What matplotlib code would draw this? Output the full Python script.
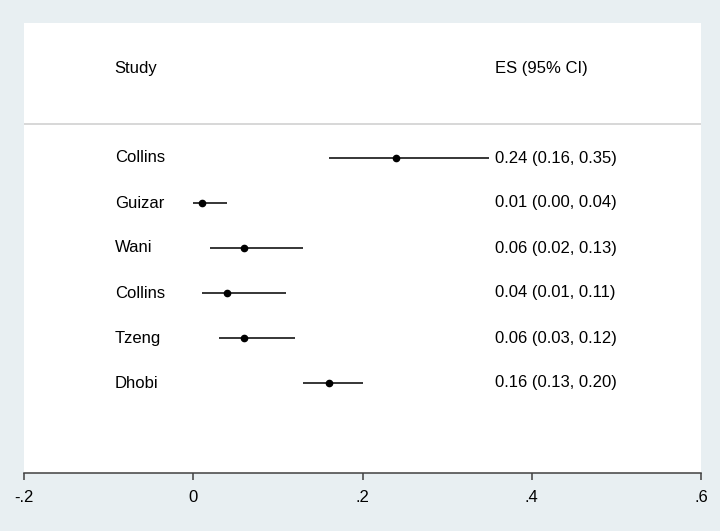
import matplotlib
matplotlib.use("Agg")
import matplotlib.pyplot as plt
import matplotlib.transforms as mtransforms

plt.rcParams['font.family'] = ['Liberation Sans', 'DejaVu Sans']

# Data
studies = ["Collins", "Guizar", "Wani", "Collins", "Tzeng", "Dhobi"]
es = [0.24, 0.01, 0.06, 0.04, 0.06, 0.16]
ci_low = [0.16, 0.00, 0.02, 0.01, 0.03, 0.13]
ci_high = [0.35, 0.04, 0.13, 0.11, 0.12, 0.20]
xticks = [-0.2, 0, 0.2, 0.4, 0.6]
xtick_labels = ["-.2", "0", ".2", ".4", ".6"]

bg = "#e8eff2"
fig = plt.figure(figsize=(7.2, 5.31), dpi=100, facecolor=bg)
ax = fig.add_axes([24 / 720, 58 / 531, 677 / 720, 450 / 531])
ax.set_facecolor("white")

rows = list(range(3, 3 + len(studies)))
for y, e, lo, hi in zip(rows, es, ci_low, ci_high):
    ax.plot([lo, hi], [y, y], color="black", lw=1.1, solid_capstyle="butt")
    ax.plot(e, y, "o", color="black", markersize=4.5)

ax.set_xlim(-0.2, 0.6)
ax.set_ylim(10, 0)

trans = mtransforms.blended_transform_factory(ax.transAxes, ax.transData)
ax.text(0.134, 1.02, "Study", transform=trans, fontsize=12, va="center", ha="left")
ax.text(0.696, 1.02, "ES (95% CI)", transform=trans, fontsize=12, va="center", ha="left")
ax.axhline(2.24, color="#d4d4d4", lw=1.3)

for y, name, e, lo, hi in zip(rows, studies, es, ci_low, ci_high):
    ax.text(0.134, y, name, transform=trans, fontsize=12, va="center", ha="left")
    ax.text(0.696, y, f"{e:.2f} ({lo:.2f}, {hi:.2f})", transform=trans,
            fontsize=12, va="center", ha="left")

for s in ["top", "left", "right"]:
    ax.spines[s].set_visible(False)
ax.spines["bottom"].set_color("#404040")
ax.spines["bottom"].set_linewidth(1.1)
ax.set_yticks([])
ax.set_xticks(xticks)
ax.set_xticklabels(xtick_labels, fontsize=12)
ax.tick_params(axis="x", length=5, width=1.1, color="#404040", pad=7)

fig.savefig("out.png", dpi=100, facecolor=bg)
